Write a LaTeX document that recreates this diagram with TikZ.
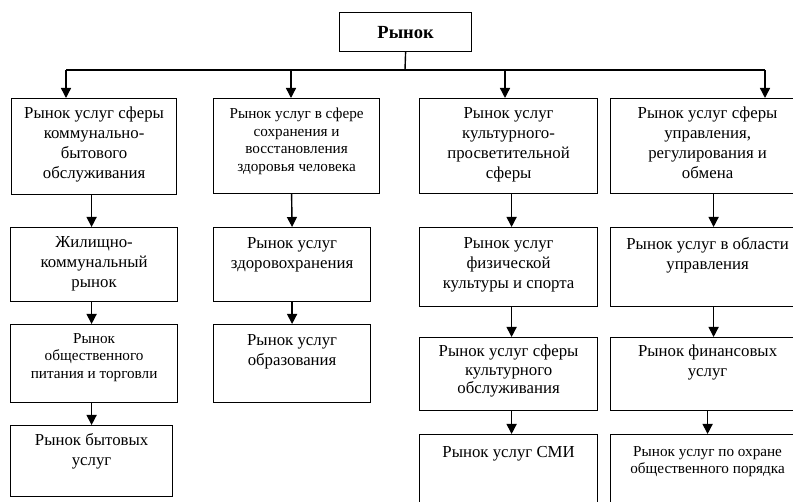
\documentclass[tikz,border=0pt]{standalone}
\usepackage{fontspec}
\setmainfont{Liberation Serif}
\usetikzlibrary{arrows.meta}
\newcommand\mkbox[5]{\node[box, minimum width={#4-#2}, minimum height={#5-#3}] (#1) at (#2,#3) {};}
\begin{document}
\begin{tikzpicture}[x=1pt,y=-1pt,
  box/.style={draw, line width=1.2pt, inner sep=0pt, anchor=north west},
  big/.style={font=\fontsize{16.8}{20}\selectfont, align=center, anchor=north, inner sep=0pt, execute at begin node=\strut},
  mid/.style={font=\fontsize{16.8}{18.5}\selectfont, align=center, anchor=north, inner sep=0pt, execute at begin node=\strut},
  small/.style={font=\fontsize{15.2}{17.5}\selectfont, align=center, anchor=north, inner sep=0pt, execute at begin node=\strut},
  ln/.style={line width=1.4pt},
  arr/.style={line width=1.4pt, -{Triangle[length=10pt,width=10pt]}}]
\useasboundingbox (0,0) rectangle (793,502);
\clip (0,0) rectangle (793,502);
\fill[white] (0,0) rectangle (793,502);
% boxes
\node[draw, line width=1.2pt, minimum width=132, minimum height=39, inner sep=0pt, anchor=north west,
  font=\fontsize{18.5}{20}\selectfont\bfseries] (top) at (339,12) {Рынок};
\mkbox{r11}{11}{98}{176}{194}
\mkbox{r12}{213}{98}{379}{193}
\mkbox{r13}{419}{98}{597}{193}
\mkbox{r14}{610}{98}{804}{193}
\mkbox{r21}{10}{227}{177}{301}
\mkbox{r22}{213}{227}{370}{301}
\mkbox{r23}{419}{227}{597}{306}
\mkbox{r24}{610}{227}{804}{306}
\mkbox{r31}{10}{324}{177}{402}
\mkbox{r32}{213}{324}{370}{402}
\mkbox{r33}{419}{337}{597}{410}
\mkbox{r34}{610}{337}{804}{410}
\mkbox{r41}{10}{425}{172}{496}
\mkbox{r43}{419}{434}{597}{515}
\mkbox{r44}{610}{434}{804}{515}
% texts
\node[big] (t11) at ([yshift=-9]r11.north) {Рынок услуг сферы\\коммунально-\\бытового\\обслуживания};
\node[small] (t12) at ([yshift=-10]r12.north) {Рынок услуг в сфере\\сохранения и\\восстановления\\здоровья человека};
\node[big] (t13) at ([yshift=-9]r13.north) {Рынок услуг\\культурного-\\просветительной\\сферы};
\node[big] (t14) at ([yshift=-9]r14.north) {Рынок услуг сферы\\управления,\\регулирования и\\обмена};
\node[big] (t21) at ([yshift=-9]r21.north) {Жилищно-\\коммунальный\\рынок};
\node[big] (t22) at ([yshift=-10]r22.north) {Рынок услуг\\здоровохранения};
\node[big] (t23) at ([yshift=-10]r23.north) {Рынок услуг\\физической\\культуры и спорта};
\node[big] (t24) at ([yshift=-10]r24.north) {Рынок услуг в области\\управления};
\node[small] (t31) at ([yshift=-9]r31.north) {Рынок\\общественного\\питания и торговли};
\node[big] (t32) at ([yshift=-10]r32.north) {Рынок услуг\\образования};
\node[mid] (t33) at ([yshift=-8]r33.north) {Рынок услуг сферы\\культурного\\обслуживания};
\node[big] (t34) at ([yshift=-8]r34.north) {Рынок финансовых\\услуг};
\node[big] (t41) at ([yshift=-8]r41.north) {Рынок бытовых\\услуг};
\node[big] (t43) at ([yshift=-9]r43.north) {Рынок услуг СМИ};
\node[small] (t44) at ([yshift=-12]r44.north) {Рынок услуг по охране\\общественного порядка};
% top bus
\coordinate (bus) at (405,70);
\coordinate (b1) at (66,70);
\coordinate (b2) at (291,70);
\coordinate (b3) at (505,70);
\coordinate (b4) at (765,70);
\draw[ln] (top.south) -- (bus);
\draw[ln] (b1) -- (b4);
\draw[arr] (b1) -- (b1 |- r11.north);
\draw[arr] (b2) -- (b2 |- r12.north);
\draw[arr] (b3) -- (b3 |- r13.north);
\draw[arr] (b4) -- (b4 |- r14.north);
% column arrows
\draw[arr] ([xshift=-2.5]r11.south) -- ([xshift=-2.5]r21.north);
\draw[arr] ([xshift=-2.5]r21.south) -- ([xshift=-2.5]r31.north);
\draw[arr] ([xshift=-2.5]r31.south) -- (r41.north);
\draw[arr] ([xshift=-5]r12.south) -- (r22.north);
\draw[arr] (r22.south) -- (r32.north);
\draw[arr] ([xshift=3]r13.south) -- ([xshift=3]r23.north);
\draw[arr] ([xshift=3]r23.south) -- ([xshift=3]r33.north);
\draw[arr] ([xshift=3]r33.south) -- ([xshift=3]r43.north);
\draw[arr] ([xshift=6]r14.south) -- ([xshift=6]r24.north);
\draw[arr] ([xshift=6]r24.south) -- ([xshift=6]r34.north);
\draw[arr] (r34.south) -- (r44.north);
\end{tikzpicture}
\end{document}
